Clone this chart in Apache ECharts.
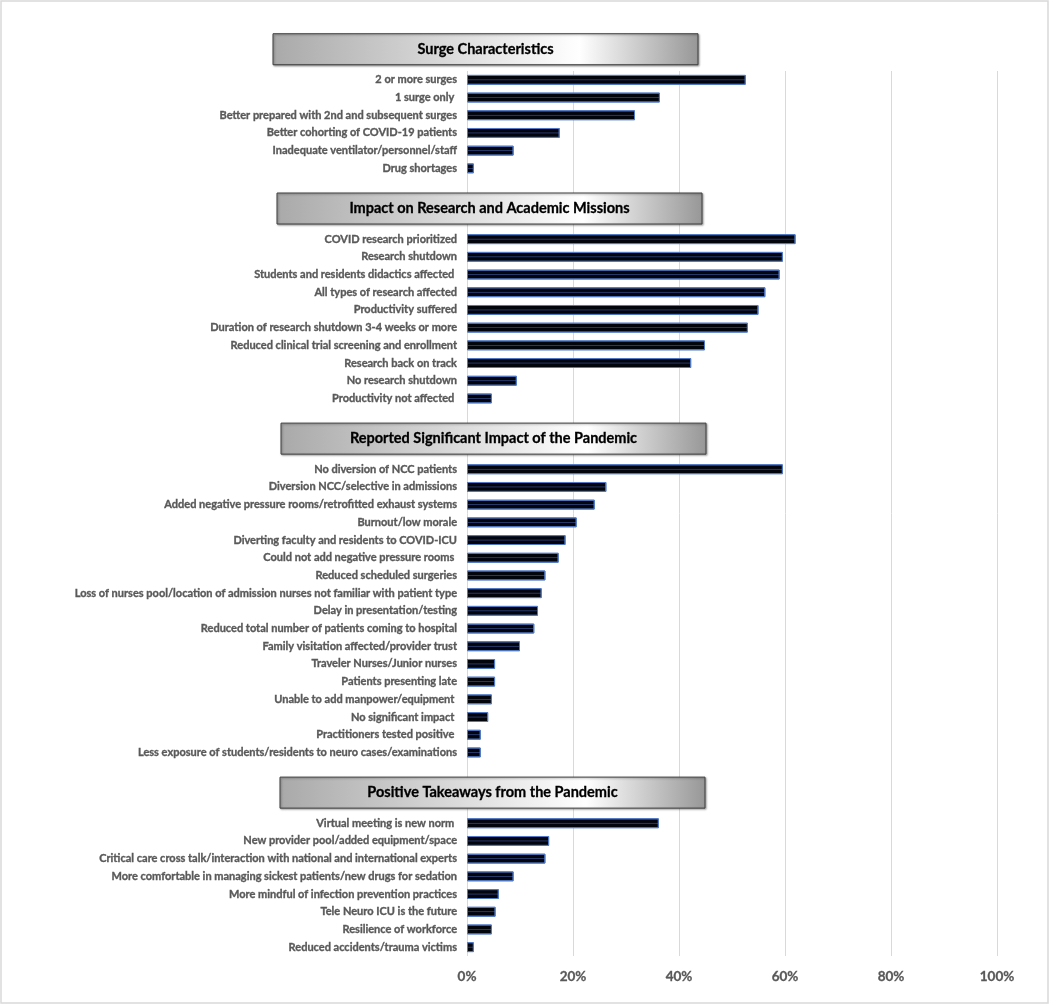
<!DOCTYPE html>
<html>
<head>
<meta charset="utf-8">
<script src="https://cdn.jsdelivr.net/npm/echarts@6/dist/echarts.min.js"></script>
<style>
html,body{margin:0;padding:0;background:#fff;}
#chart{width:1050px;height:1005px;}
</style>
</head>
<body>
<div id="chart"></div>
<script>
// ---------- DATA ----------
const sectionTitles = [
  'Surge Characteristics',
  'Impact on Research and Academic Missions',
  'Reported Significant Impact of the Pandemic',
  'Positive Takeaways from the Pandemic'
];

const surgeLabels = [
  '2 or more surges',
  '1 surge only ',
  'Better prepared with 2nd and subsequent surges',
  'Better cohorting of COVID-19 patients',
  'Inadequate ventilator/personnel/staff',
  'Drug shortages'
];
const surgeValues = [52.6, 36.4, 31.7, 17.5, 8.8, 1.3];

const researchLabels = [
  'COVID research prioritized',
  'Research shutdown',
  'Students and residents didactics affected ',
  'All types of research affected',
  'Productivity suffered',
  'Duration of research shutdown 3-4 weeks or more',
  'Reduced clinical trial screening and enrollment',
  'Research back on track',
  'No research shutdown',
  'Productivity not affected '
];
const researchValues = [62.0, 59.6, 59.0, 56.3, 55.0, 53.0, 44.9, 42.3, 9.4, 4.7];

const impactLabels = [
  'No diversion of NCC patients',
  'Diversion NCC/selective in admissions',
  'Added negative pressure rooms/retrofitted exhaust systems',
  'Burnout/low morale',
  'Diverting faculty and residents to COVID-ICU',
  'Could not add negative pressure rooms ',
  'Reduced scheduled surgeries',
  'Loss of nurses pool/location of admission nurses not familiar with patient type',
  'Delay in presentation/testing',
  'Reduced total number of patients coming to hospital',
  'Family visitation affected/provider trust',
  'Traveler Nurses/Junior nurses',
  'Patients presenting late',
  'Unable to add manpower/equipment ',
  'No significant impact ',
  'Practitioners tested positive ',
  'Less exposure of students/residents to neuro cases/examinations'
];
const impactValues = [59.6, 26.3, 24.1, 20.7, 18.6, 17.3, 14.8, 14.1, 13.4, 12.7, 10.0, 5.3, 5.3, 4.7, 4.0, 2.6, 2.6];

const takeawayLabels = [
  'Virtual meeting is new norm ',
  'New provider pool/added equipment/space',
  'Critical care cross talk/interaction with national and international experts',
  'More comfortable in managing sickest patients/new drugs for sedation',
  'More mindful of infection prevention practices',
  'Tele Neuro ICU is the future',
  'Resilience of workforce',
  'Reduced accidents/trauma victims'
];
const takeawayValues = [36.2, 15.5, 14.8, 8.8, 6.0, 5.4, 4.7, 1.3];

const xTickValues = [0, 20, 40, 60, 80, 100];

// ---------- BUILD ----------
const sections = [
  {labels: surgeLabels, values: surgeValues},
  {labels: researchLabels, values: researchValues},
  {labels: impactLabels, values: impactValues},
  {labels: takeawayLabels, values: takeawayValues}
];
const categories = [];
const seriesData = [];
const firstIndex = [];
sections.forEach((s, si) => {
  if (si > 0) {
    for (let g = 0; g < 3; g++) { categories.push('gap-' + si + '-' + g); seriesData.push(null); }
  }
  firstIndex.push(categories.length);
  s.labels.forEach((l, i) => { categories.push(l); seriesData.push(s.values[i] / 100); });
});

const FONT = 'Lato, "Open Sans", sans-serif';
const chart = echarts.init(document.getElementById('chart'), null, {renderer: 'canvas'});

const barFill = new echarts.graphic.LinearGradient(0, 0, 0, 1, [
  {offset: 0, color: '#03050c'},
  {offset: 0.42, color: '#03050c'},
  {offset: 0.48, color: '#26386a'},
  {offset: 0.52, color: '#26386a'},
  {offset: 0.58, color: '#03050c'},
  {offset: 1, color: '#03050c'}
]);

chart.setOption({
  animation: false,
  backgroundColor: '#ffffff',
  grid: {left: 467, right: 53, top: 71, bottom: 49, containLabel: false},
  xAxis: {
    type: 'value', min: 0, max: 1, interval: 0.2,
    axisLine: {show: false}, axisTick: {show: false},
    splitLine: {show: true, lineStyle: {color: '#d9d9d9', width: 1}},
    axisLabel: {
      margin: 14, color: '#595959', fontFamily: FONT, fontWeight: 'bold', fontSize: 13.5,
      textBorderColor: '#595959', textBorderWidth: 0.3,
      formatter: v => Math.round(v * 100) + '%'
    }
  },
  yAxis: {
    type: 'category', inverse: true, data: categories,
    axisLine: {show: false}, axisTick: {show: false}, splitLine: {show: false},
    axisLabel: {
      interval: 0, margin: 10, color: '#595959', fontFamily: FONT, fontWeight: 'bold', fontSize: 11,
      textBorderColor: '#595959', textBorderWidth: 0.35,
      formatter: v => v.indexOf('gap-') === 0 ? '' : v
    }
  },
  series: [{
    type: 'bar', data: seriesData, barWidth: '56%',
    itemStyle: {color: barFill, borderColor: '#5079c6', borderWidth: 1}
  }]
});

// ---------- SECTION HEADERS ----------
const band = chart.convertToPixel({yAxisIndex: 0}, categories[1]) - chart.convertToPixel({yAxisIndex: 0}, categories[0]);
const x0 = chart.convertToPixel({xAxisIndex: 0}, 0);
const headerShift = [-194, -190, -186, -187];
const graphics = [{
  type: 'rect', silent: true, z: -1,
  shape: {x: 1, y: 1, width: 1047, height: 1002},
  style: {fill: 'none', stroke: '#d9d9d9', lineWidth: 1.5}
}];
sectionTitles.forEach((t, si) => {
  const cy = chart.convertToPixel({yAxisIndex: 0}, categories[firstIndex[si]]) - 1.73 * band;
  const w = 425, h = 31;
  const left = x0 + headerShift[si];
  graphics.push({
    type: 'group', z: 100,
    children: [
      {
        type: 'rect', z: 100,
        shape: {x: left, y: cy - h / 2, width: w, height: h},
        style: {
          fill: new echarts.graphic.LinearGradient(0, 0, 1, 0, [
            {offset: 0, color: '#a9a9a9'},
            {offset: 0.72, color: '#ffffff'},
            {offset: 1, color: '#979797'}
          ]),
          stroke: '#3f3f3f', lineWidth: 1,
          shadowBlur: 2, shadowOffsetX: 1, shadowOffsetY: 1, shadowColor: 'rgba(0,0,0,0.35)'
        }
      },
      {
        type: 'text', z: 101,
        x: left + w / 2, y: cy,
        style: {
          text: t, fill: '#000000', font: 'bold 14.5px ' + FONT,
          stroke: '#000000', lineWidth: 0.3,
          align: 'center', verticalAlign: 'middle'
        }
      }
    ]
  });
});
chart.setOption({graphic: graphics});
</script>
</body>
</html>
